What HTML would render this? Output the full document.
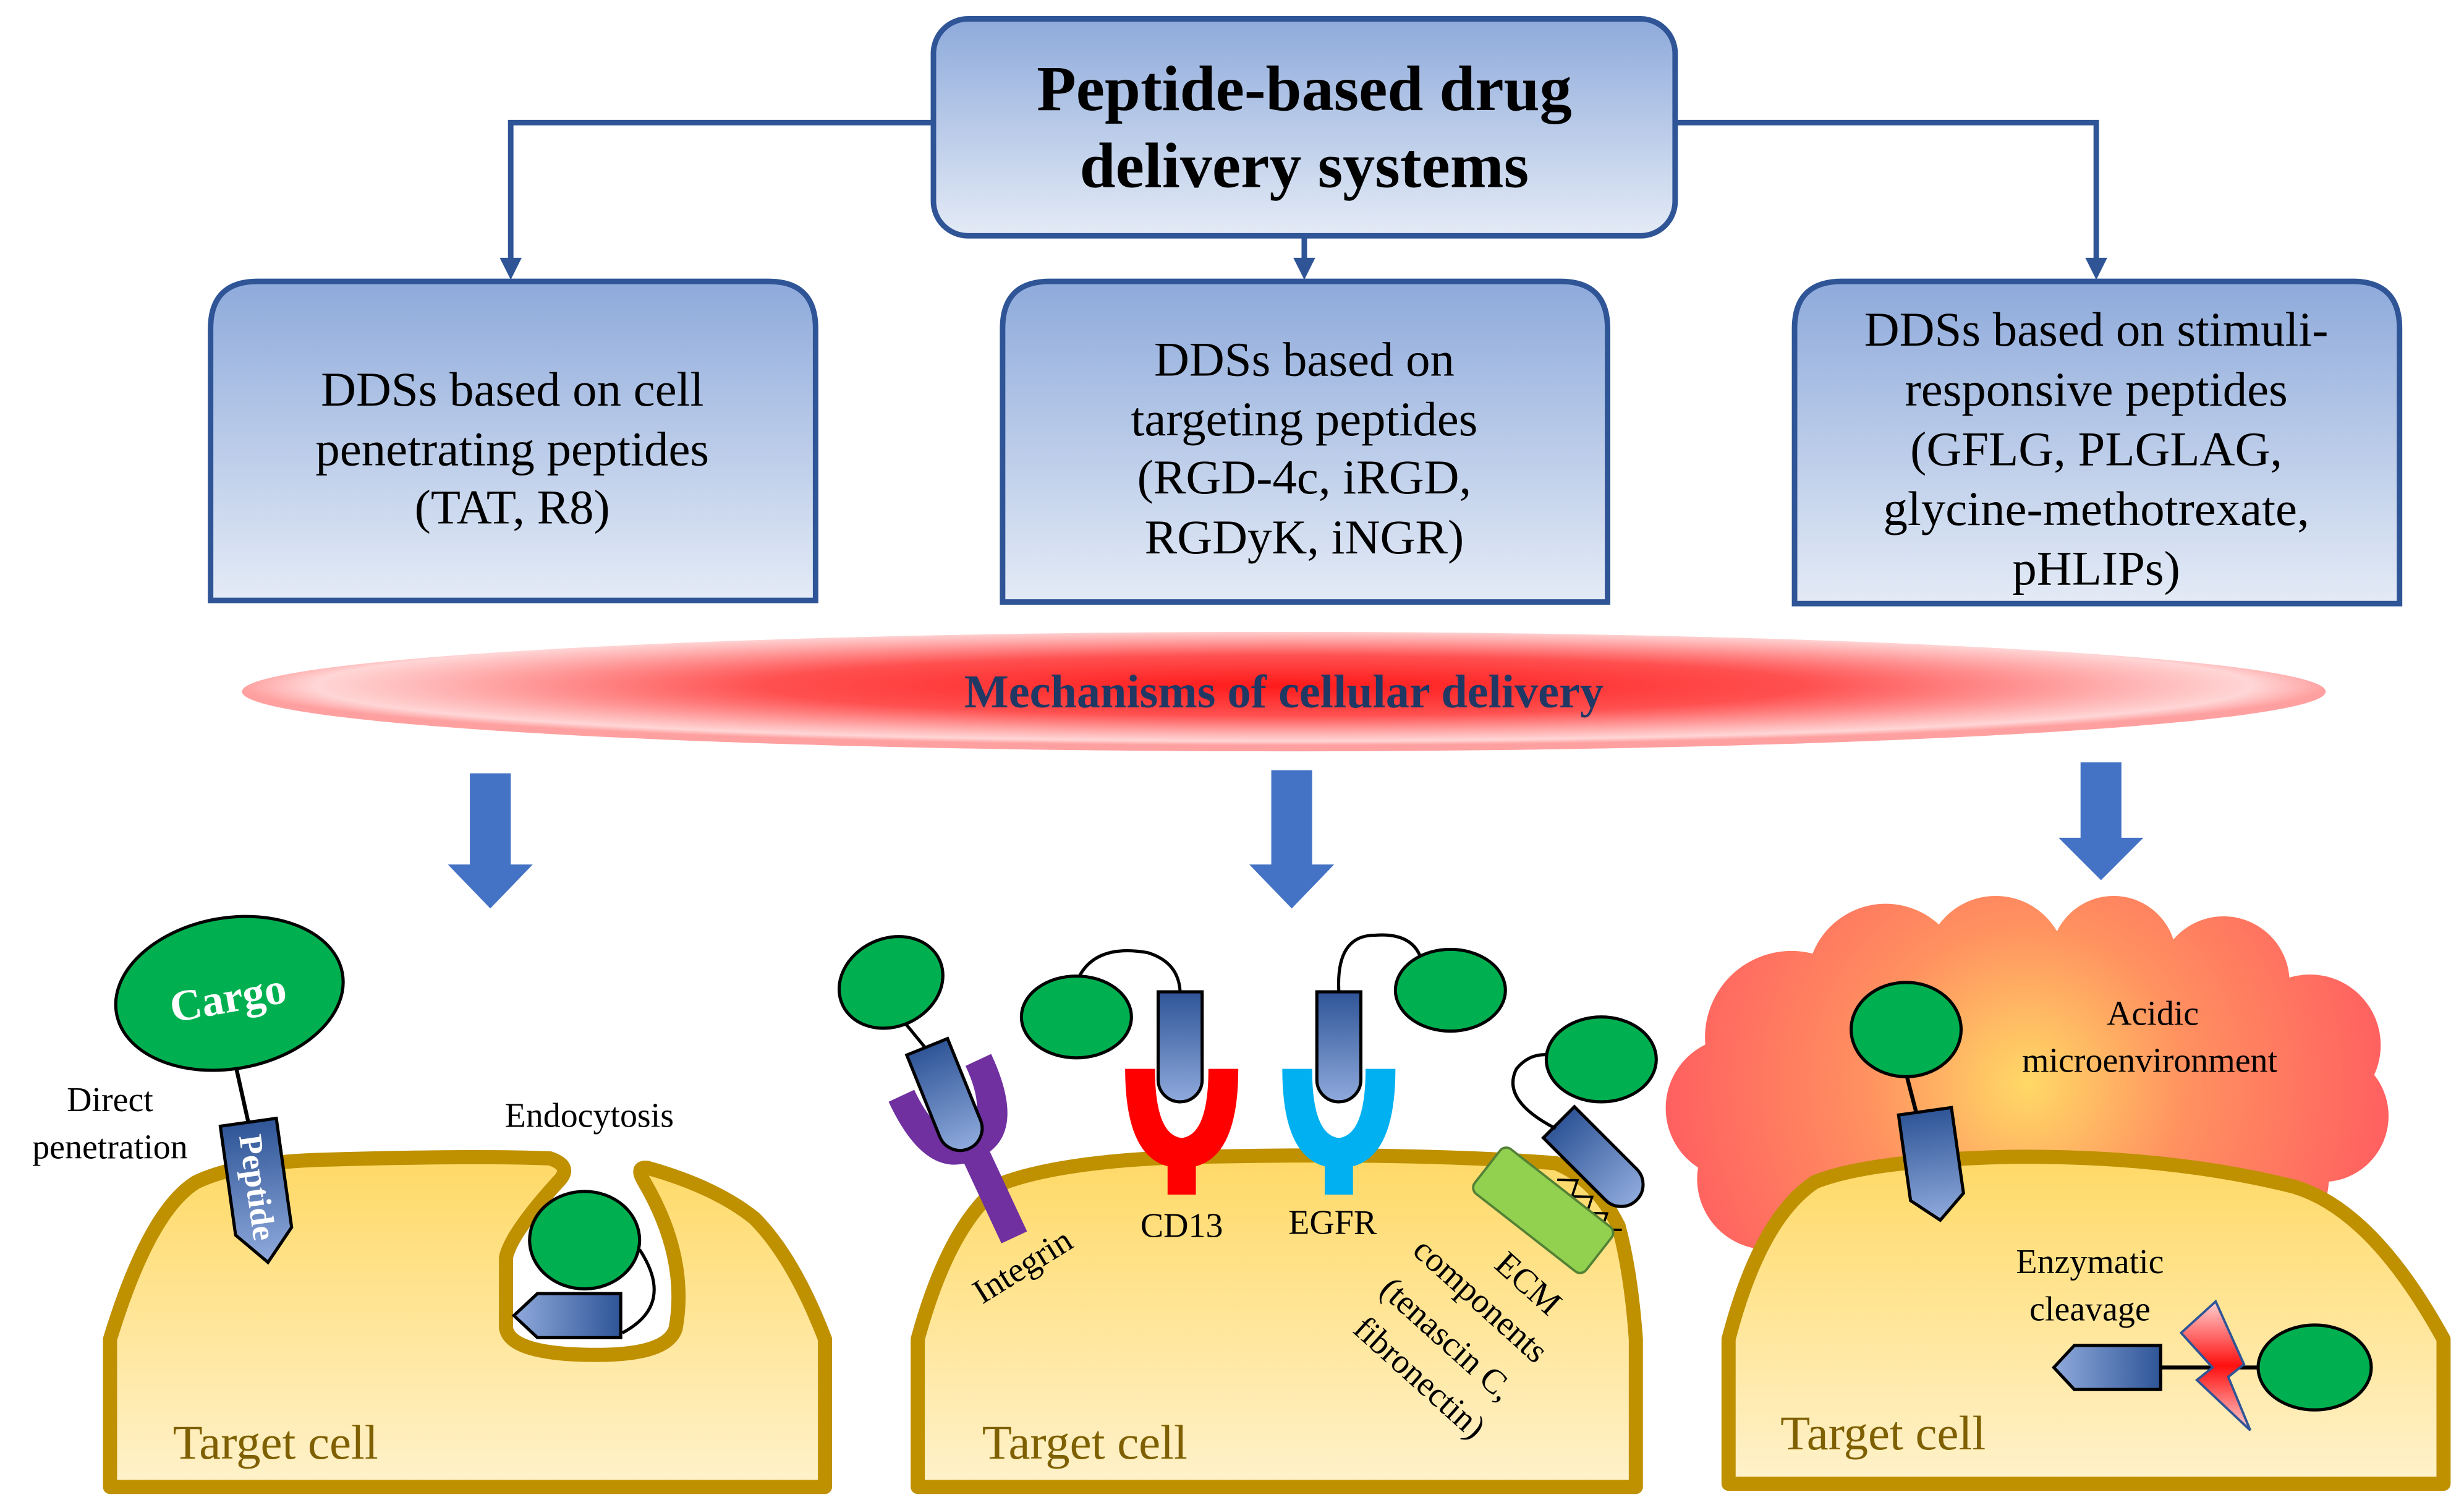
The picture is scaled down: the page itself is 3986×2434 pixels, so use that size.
<!DOCTYPE html>
<html><head><meta charset="utf-8"><style>
html,body{margin:0;padding:0;background:#fff}
svg{display:block}
</style></head><body>
<svg width="3986" height="2434" viewBox="0 0 1568 957.5" xmlns="http://www.w3.org/2000/svg" font-family="Liberation Serif, serif">
<defs>
<linearGradient id="bx" x1="0" y1="0" x2="0" y2="1"><stop offset="0" stop-color="#8eaadb"/><stop offset="1" stop-color="#e4ebf6"/></linearGradient>
<radialGradient id="band" cx="0.5" cy="0.45" r="0.5"><stop offset="0" stop-color="#ff1a1a"/><stop offset="0.5" stop-color="#ff5050"/><stop offset="0.8" stop-color="#ffb0b0"/><stop offset="0.93" stop-color="#ffd6d6"/><stop offset="1" stop-color="#ffa0a0"/></radialGradient>
<linearGradient id="cell" x1="0" y1="0" x2="0" y2="1"><stop offset="0" stop-color="#ffd966"/><stop offset="1" stop-color="#fff2cc"/></linearGradient>
<linearGradient id="pep" x1="0" y1="0" x2="0" y2="1"><stop offset="0" stop-color="#2f5597"/><stop offset="1" stop-color="#8faadc"/></linearGradient>
<linearGradient id="peph" x1="0" y1="0" x2="1" y2="0"><stop offset="0" stop-color="#8faadc"/><stop offset="1" stop-color="#2f5597"/></linearGradient>
<radialGradient id="cloud" gradientUnits="userSpaceOnUse" cx="1290" cy="690" r="230"><stop offset="0" stop-color="#ffd966"/><stop offset="0.45" stop-color="#ff9060"/><stop offset="1" stop-color="#ff6060"/></radialGradient>
<linearGradient id="bolt" x1="0" y1="0" x2="0" y2="1"><stop offset="0" stop-color="#ffd0d0"/><stop offset="0.5" stop-color="#ff1010"/><stop offset="1" stop-color="#ffd0d0"/></linearGradient>
<g id="bul"><path d="M-14,0 H14 V56 A14,14 0 0 1 -14,56 Z" fill="url(#pep)" stroke="#000" stroke-width="2"/></g>
<g id="pent"><path d="M-18,0 H18 V70 L0,90 L-18,70 Z" fill="url(#pep)" stroke="#000" stroke-width="2"/></g>
</defs>

<g stroke="#2f5597" stroke-width="3.5" fill="none">
<path d="M594,78 H325 V168"/><path d="M1066,78 H1334 V168"/><path d="M830,150 V168"/>
</g>
<g fill="#2f5597"><path d="M318,164 L332,164 L325,178 Z"/><path d="M1327,164 L1341,164 L1334,178 Z"/><path d="M823,164 L837,164 L830,178 Z"/></g>

<rect x="594" y="12" width="472" height="138" rx="22" fill="url(#bx)" stroke="#2f5597" stroke-width="3.5"/>
<text x="830" y="70" font-size="41" font-weight="bold" text-anchor="middle" font-family="Liberation Serif, serif">Peptide-based drug</text>
<text x="830" y="119" font-size="41" font-weight="bold" text-anchor="middle" font-family="Liberation Serif, serif">delivery systems</text>

<g stroke="#2f5597" stroke-width="3.5" fill="url(#bx)">
<path d="M134,382 V209 Q134,179 164,179 H489 Q519,179 519,209 V382 Z"/>
<path d="M638,383 V209 Q638,179 668,179 H993 Q1023,179 1023,209 V383 Z"/>
<path d="M1142,384 V209 Q1142,179 1172,179 H1497 Q1527,179 1527,209 V384 Z"/>
</g>
<g font-size="31" text-anchor="middle" font-family="Liberation Serif, serif">
<text x="326" y="258">DDSs based on cell</text><text x="326" y="296">penetrating peptides</text><text x="326" y="333">(TAT, R8)</text>
<text x="830" y="239">DDSs based on</text><text x="830" y="277">targeting peptides</text><text x="830" y="314">(RGD-4c, iRGD,</text><text x="830" y="352">RGDyK, iNGR)</text>
<text x="1334" y="220">DDSs based on stimuli-</text><text x="1334" y="258">responsive peptides</text><text x="1334" y="296">(GFLG, PLGLAG,</text><text x="1334" y="334">glycine-methotrexate,</text><text x="1334" y="372">pHLIPs)</text>
</g>

<ellipse cx="817" cy="440" rx="663" ry="38" fill="url(#band)"/>
<text x="817" y="450" font-size="30" font-weight="bold" fill="#1f3864" text-anchor="middle" font-family="Liberation Serif, serif">Mechanisms of cellular delivery</text>

<g fill="#4472c4">
<path d="M299,492 H325 V550 H339 L312,578 L285,550 H299 Z"/>
<path d="M809,490 H835 V550 H849 L822,578 L795,550 H809 Z"/>
<path d="M1324,485 H1350 V533 H1364 L1337,560 L1310,533 H1324 Z"/>
</g>

<g fill="url(#cloud)">
<circle cx="1140" cy="660" r="55"/><circle cx="1105" cy="705" r="45"/><circle cx="1125" cy="750" r="45"/>
<circle cx="1200" cy="625" r="50"/><circle cx="1270" cy="615" r="45"/><circle cx="1345" cy="610" r="40"/><circle cx="1415" cy="625" r="42"/>
<circle cx="1470" cy="665" r="45"/><circle cx="1478" cy="710" r="42"/><circle cx="1440" cy="750" r="42"/>
<ellipse cx="1290" cy="695" rx="190" ry="90"/>
</g>

<g stroke="#bf9000" stroke-width="9" fill="url(#cell)" stroke-linejoin="round">
<path d="M70,946 V852 Q95,770 125,752 Q150,740 200,738 Q300,735 350,737 Q365,742 355,752 Q325,785 322,800 V845 Q325,862 380,862 Q425,862 430,845 Q438,800 410,752 Q404,742 412,743 Q455,755 480,775 Q505,800 525,852 V946 Z"/>
<path d="M584,946 V852 Q605,775 640,752 Q680,738 760,736 Q900,733 990,740 Q1015,750 1030,780 Q1038,810 1041,852 V946 Z"/>
<path d="M1100,944 V852 Q1120,775 1155,752 Q1190,738 1280,736 Q1380,735 1460,755 Q1510,770 1555,852 V944 Z"/>
</g>
<g font-size="31" fill="#7f6000" font-family="Liberation Serif, serif">
<text x="110" y="928">Target cell</text><text x="625" y="928">Target cell</text><text x="1133" y="922">Target cell</text>
</g>

<line x1="150" y1="678" x2="158" y2="714" stroke="#000" stroke-width="2.5"/>
<g transform="translate(158,714) rotate(-8)"><use href="#pent"/><text transform="translate(-7,8) rotate(90)" font-size="21" font-weight="bold" fill="#fff" font-family="Liberation Serif, serif">Peptide</text></g>
<ellipse cx="146" cy="632" rx="73" ry="48" transform="rotate(-10 146 632)" fill="#00b050" stroke="#000" stroke-width="2"/>
<text x="146" y="644" font-size="28" font-weight="bold" fill="#fff" text-anchor="middle" transform="rotate(-10 146 640)" font-family="Liberation Serif, serif">Cargo</text>
<g font-size="22" text-anchor="middle" font-family="Liberation Serif, serif"><text x="70" y="707">Direct</text><text x="70" y="737">penetration</text><text x="375" y="717">Endocytosis</text></g>
<ellipse cx="372" cy="789" rx="35" ry="31" fill="#00b050" stroke="#000" stroke-width="2"/>
<path d="M407,795 Q430,830 396,848" fill="none" stroke="#000" stroke-width="2"/>
<path d="M395,823 H342 L327,837 L342,851 H395 Z" fill="url(#peph)" stroke="#000" stroke-width="2"/>

<g transform="translate(615,722) rotate(-25)">
<path d="M-36,-40 H-18 Q-18,-5 0,-3 Q18,-5 18,-40 H36 Q36,10 9,16 V72 H-9 V16 Q-36,10 -36,-40 Z" fill="#7030a0"/>
</g>
<line x1="567" y1="640" x2="590" y2="668" stroke="#000" stroke-width="2"/>
<g transform="translate(590,666) rotate(-22)"><use href="#bul"/></g>
<ellipse cx="567" cy="625" rx="34" ry="28" transform="rotate(-25 567 625)" fill="#00b050" stroke="#000" stroke-width="2"/>
<path d="M716,680 H735 Q735,722 752,724 Q769,722 769,680 H788 Q788,735 761,742 V760 H743 V742 Q716,735 716,680 Z" fill="#ff0000"/>
<g transform="translate(751,631)"><use href="#bul"/></g>
<path d="M685,625 Q695,600 730,606 Q750,612 751,631" fill="none" stroke="#000" stroke-width="2"/>
<ellipse cx="685" cy="647" rx="35" ry="26" fill="#00b050" stroke="#000" stroke-width="2"/>
<path d="M816,680 H835 Q835,722 852,724 Q869,722 869,680 H888 Q888,735 861,742 V760 H843 V742 Q816,735 816,680 Z" fill="#00b0f0"/>
<g transform="translate(852,631)"><use href="#bul"/></g>
<path d="M852,631 Q850,595 875,595 Q900,593 905,612" fill="none" stroke="#000" stroke-width="2"/>
<ellipse cx="923" cy="630" rx="35" ry="26" fill="#00b050" stroke="#000" stroke-width="2"/>
<path d="M985,763 l10,-8 l4,10 l10,-8 l4,10 l10,-8 l4,10 l10,-8" fill="none" stroke="#000" stroke-width="1.5" transform="rotate(40 1005 765)"/>
<rect x="937" y="752" width="90" height="36" rx="5" transform="rotate(38 982 770)" fill="#92d050" stroke="#548235" stroke-width="1.5"/>
<g transform="translate(992,714) rotate(-45)"><use href="#bul"/></g>
<path d="M990,718 Q955,700 965,680 Q975,668 990,672" fill="none" stroke="#000" stroke-width="2"/>
<ellipse cx="1019" cy="674" rx="35" ry="27" fill="#00b050" stroke="#000" stroke-width="2"/>
<g font-size="22" font-family="Liberation Serif, serif">
<text transform="translate(625,830) rotate(-32)">Integrin</text>
<text x="752" y="787" text-anchor="middle">CD13</text>
<text x="848" y="785" text-anchor="middle">EGFR</text>
<text transform="translate(950,806) rotate(42)">ECM</text>
<text transform="translate(898,797) rotate(42)">components</text>
<text transform="translate(877,822) rotate(42)">(tenascin C,</text>
<text transform="translate(860,847) rotate(42)">fibronectin)</text>
</g>

<line x1="1213" y1="683" x2="1220" y2="710" stroke="#000" stroke-width="2.5"/>
<g transform="translate(1225,707) rotate(-8)"><path d="M-17,0 H17 V55 L0,70 L-17,55 Z" fill="url(#pep)" stroke="#000" stroke-width="2"/></g>
<ellipse cx="1213" cy="655" rx="35" ry="30" fill="#00b050" stroke="#000" stroke-width="2"/>
<g font-size="22" text-anchor="middle" font-family="Liberation Serif, serif">
<text x="1370" y="652">Acidic</text><text x="1368" y="682">microenvironment</text>
<text x="1330" y="810">Enzymatic</text><text x="1330" y="840">cleavage</text>
</g>
<line x1="1375" y1="870" x2="1440" y2="870" stroke="#000" stroke-width="2.5"/>
<path d="M1375,856 H1320 L1307,870 L1320,884 H1375 Z" fill="url(#peph)" stroke="#000" stroke-width="2"/>
<path d="M1410,828 L1388,848 L1408,870 L1398,878 L1432,910 L1418,876 L1428,868 Z" fill="url(#bolt)" stroke="#2f5597" stroke-width="1.5"/>
<ellipse cx="1473" cy="870" rx="36" ry="27" fill="#00b050" stroke="#000" stroke-width="2"/>
</svg>
</body></html>
